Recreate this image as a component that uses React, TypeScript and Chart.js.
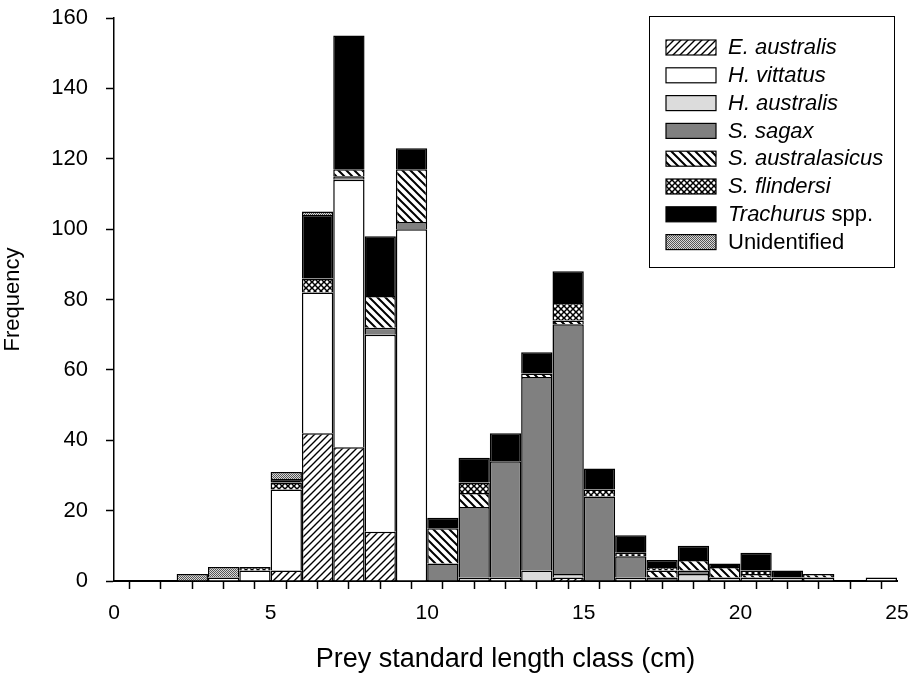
import React, { useEffect, useRef } from 'react';
import { Chart, registerables } from 'chart.js';

Chart.register(...registerables);

// Length classes (lower bound, cm): bar spans [c, c+1)
const lengthClasses = [2, 3, 4, 5, 6, 7, 8, 9, 10, 11, 12, 13, 14, 15, 16, 17, 18, 19, 20, 21, 22, 23, 24];

const eAustralis =      [0, 0, 0, 3, 42, 38, 14, 0, 0, 0, 0, 0, 1, 0, 0, 0, 0, 0, 0, 0, 0, 0, 0];
const hVittatus =       [0, 1, 3, 23, 40, 76, 56, 100, 0, 0, 1, 0, 0, 0, 0, 0, 0, 0, 0, 0, 0, 0, 1];
const hAustralis =      [0, 0, 0, 0, 0, 0, 0, 0, 0, 1, 0, 3, 1, 0, 1, 0, 2, 1, 1, 1, 1, 0, 0];
const sSagax =          [0, 0, 0, 0, 0, 1, 2, 2, 5, 20, 33, 55, 71, 24, 6, 1, 1, 0, 0, 0, 0, 0, 0];
const sAustralasicus =  [0, 0, 0, 0, 0, 2, 9, 15, 10, 4, 0, 1, 1, 0, 0, 2, 3, 3, 1, 0, 1, 0, 0];
const sFlindersi =      [0, 0, 1, 2, 4, 0, 0, 0, 0, 3, 0, 0, 5, 2, 1, 1, 0, 0, 1, 0, 0, 0, 0];
const trachurus =       [0, 0, 0, 1, 18, 38, 17, 6, 3, 7, 8, 6, 9, 6, 5, 2, 4, 1, 5, 2, 0, 0, 0];
const unidentified =    [2, 3, 0, 2, 1, 0, 0, 0, 0, 0, 0, 0, 0, 0, 0, 0, 0, 0, 0, 0, 0, 0, 0];

const seriesNames = ['E. australis', 'H. vittatus', 'H. australis', 'S. sagax', 'S. australasicus', 'S. flindersi', 'Trachurus spp.', 'Unidentified'];
const seriesValues = [eAustralis, hVittatus, hAustralis, sSagax, sAustralasicus, sFlindersi, trachurus, unidentified];
// legend label segments: [text, italic]
const legendLabels: [string, boolean][][] = [
  [['E. australis', true]],
  [['H. vittatus', true]],
  [['H. australis', true]],
  [['S. sagax', true]],
  [['S. australasicus', true]],
  [['S. flindersi', true]],
  [['Trachurus', true], [' spp.', false]],
  [['Unidentified', false]],
];

const xTickLabels = [0, 5, 10, 15, 20, 25];
const yTickStep = 20;
const xTitle = 'Prey standard length class (cm)';
const yTitle = 'Frequency';

const FONT = '"Liberation Sans", Arial, sans-serif';

function tile(w: number, h: number, draw: (c: CanvasRenderingContext2D) => void): CanvasPattern | string {
  const cv = document.createElement('canvas');
  cv.width = w;
  cv.height = h;
  const c = cv.getContext('2d');
  if (!c) return '#888';
  draw(c);
  return c.createPattern(cv, 'repeat') as CanvasPattern;
}

function makeFills(): (CanvasPattern | string)[] {
  const fwd = tile(7, 7, (c) => {
    c.fillStyle = '#fff'; c.fillRect(0, 0, 7, 7);
    c.strokeStyle = '#000'; c.lineWidth = 1.4;
    c.beginPath();
    c.moveTo(-1, 8); c.lineTo(8, -1);
    c.moveTo(-2, 2); c.lineTo(2, -2);
    c.moveTo(5, 9); c.lineTo(9, 5);
    c.stroke();
  });
  const back = tile(8, 8, (c) => {
    c.fillStyle = '#fff'; c.fillRect(0, 0, 8, 8);
    c.strokeStyle = '#000'; c.lineWidth = 2;
    c.beginPath();
    c.moveTo(-1, -1); c.lineTo(9, 9);
    c.moveTo(-2, 6); c.lineTo(2, 10);
    c.moveTo(6, -2); c.lineTo(10, 2);
    c.stroke();
  });
  const cross = tile(6, 6, (c) => {
    c.fillStyle = '#fff'; c.fillRect(0, 0, 6, 6);
    c.strokeStyle = '#000'; c.lineWidth = 1.5;
    c.beginPath();
    c.moveTo(-1, -1); c.lineTo(7, 7);
    c.moveTo(-1, 7); c.lineTo(7, -1);
    c.stroke();
  });
  const stipple = tile(2, 2, (c) => {
    c.fillStyle = '#d8d8d8'; c.fillRect(0, 0, 2, 2);
    c.fillStyle = '#555'; c.fillRect(0, 0, 1, 1); c.fillRect(1, 1, 1, 1);
  });
  return [fwd, '#ffffff', '#dcdcdc', '#808080', back, cross, '#000000', stipple];
}

export default function App() {
  const ref = useRef<HTMLCanvasElement>(null);

  useEffect(() => {
    if (!ref.current) return;
    const fills = makeFills();

    const legendPlugin = {
      id: 'boxLegend',
      afterDraw(chart: any) {
        const ctx: CanvasRenderingContext2D = chart.ctx;
        ctx.save();
        const bx = 649, by = 16, bw = 246, bh = 252;
        ctx.fillStyle = '#fff';
        ctx.fillRect(bx, by, bw, bh);
        ctx.strokeStyle = '#000';
        ctx.lineWidth = 1;
        ctx.strokeRect(bx + 0.5, by + 0.5, bw - 1, bh - 1);
        const rowY0 = 47, rowStep = 27.8;
        legendLabels.forEach((segs, i) => {
          const cy = rowY0 + i * rowStep;
          ctx.fillStyle = fills[i] as any;
          ctx.fillRect(666, cy - 7, 50, 15);
          ctx.strokeStyle = '#000';
          ctx.lineWidth = 1.2;
          ctx.strokeRect(666, cy - 7, 50, 15);
          let tx = 728;
          ctx.fillStyle = '#000';
          ctx.textBaseline = 'middle';
          ctx.textAlign = 'left';
          segs.forEach(([t, it]) => {
            ctx.font = `${it ? 'italic ' : ''}22px ${FONT}`;
            ctx.fillText(t, tx, cy + 1);
            tx += ctx.measureText(t).width;
          });
        });
        ctx.restore();
      },
    };

    const datasets = seriesValues.map((vals, i) => ({
      label: seriesNames[i],
      data: vals.map((v, k) => ({ x: lengthClasses[k] + 0.5, y: v === 0 ? null : v })),
      backgroundColor: fills[i] as any,
      borderColor: '#000',
      borderWidth: 1.5,
      barPercentage: 1,
      categoryPercentage: 1,
      inflateAmount: 0,
    }));

    const chart = new Chart(ref.current, {
      type: 'bar',
      data: { datasets: datasets as any },
      options: {
        animation: false,
        responsive: false,
        devicePixelRatio: 1,
        layout: { padding: { left: 0, right: 14, top: 18, bottom: 0 } },
        plugins: { legend: { display: false }, tooltip: { enabled: false } },
        scales: {
          x: {
            type: 'linear',
            stacked: true,
            min: 0,
            max: 25,
            offset: false,
            afterFit: (s: any) => { s.height = 96; s.paddingLeft = 0; s.paddingRight = 0; },
            afterBuildTicks: (s: any) => {
              const t = [];
              for (let v = 0; v <= 25; v++) t.push({ value: v });
              s.ticks = t;
            },
            ticks: {
              autoSkip: false,
              maxRotation: 0,
              color: '#000',
              font: { family: FONT, size: 21 },
              padding: 12,
              callback: (v: any) => (xTickLabels.includes(Number(v)) ? String(v) : ''),
            },
            grid: { display: true, drawOnChartArea: false, drawTicks: true, tickLength: 8, tickColor: '#000', tickWidth: 1.5 },
            border: { display: true, color: '#000', width: 2 },
            title: { display: true, text: xTitle, color: '#000', font: { family: FONT, size: 27 }, padding: { top: 0, bottom: 1 } },
          },
          y: {
            stacked: true,
            min: 0,
            max: 160,
            afterFit: (s: any) => { s.width = 114; s.paddingTop = 0; s.paddingBottom = 0; },
            ticks: { stepSize: yTickStep, color: '#000', font: { family: FONT, size: 22 }, padding: 18 },
            grid: { display: true, drawOnChartArea: false, drawTicks: true, tickLength: 8, tickColor: '#000', tickWidth: 1.5 },
            border: { display: true, color: '#000', width: 1.5 },
            title: { display: true, text: yTitle, color: '#000', font: { family: FONT, size: 22 }, padding: { top: 0, bottom: 0 } },
          },
        },
      },
      plugins: [legendPlugin],
    });
    return () => chart.destroy();
  }, []);

  return (
    <div style={{ position: 'fixed', left: 0, top: 0, width: 911, height: 677, background: '#fff' }}>
      <canvas ref={ref} width={911} height={677} style={{ width: 911, height: 677, display: 'block' }} />
    </div>
  );
}
